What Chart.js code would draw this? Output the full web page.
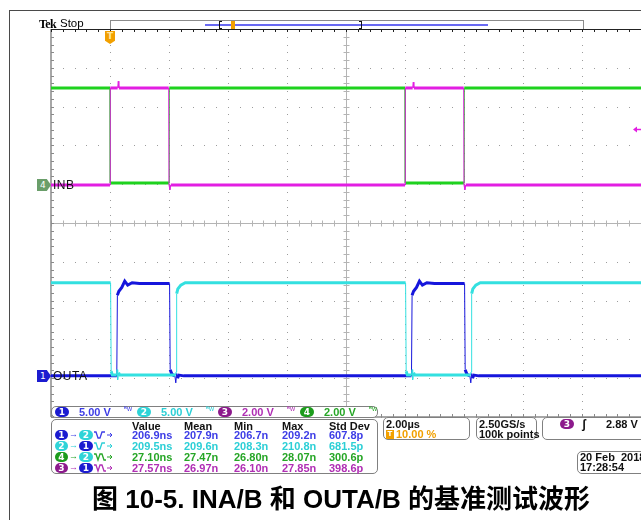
<!DOCTYPE html>
<html>
<head>
<meta charset="utf-8">
<script src="https://cdn.jsdelivr.net/npm/chart.js@4.4.1/dist/chart.umd.min.js"></script>
<style>
  html, body { margin: 0; padding: 0; background: #fff; width: 641px; height: 520px; overflow: hidden; position: relative;
    font-family: 'Liberation Sans', Arial, sans-serif; }
  #c { position: absolute; left: 0; top: 0; }
  .abs { position: absolute; white-space: nowrap; }
  .caixa { position: absolute; border: 1px solid #808080; border-radius: 5px; background: #fff; box-sizing: border-box; }
  .bad { position: absolute; height: 10px; border-radius: 6px; color: #fff; font: bold 9px/10px 'DejaVu Sans', sans-serif; text-align: center; }
  .txt { font-size: 11px; line-height: 12px; }
</style>
</head>
<body>
<canvas id="c" width="641" height="520"></canvas>

<script>
/* =========================================================
   DADOS (tempo em µs, trigger = 0 ; tensão em V)
========================================================= */
// CH4 - INA (verde)
const tINA = [-2, 0, 0.01, 2.0, 2.01, 10, 10.01, 12.0, 12.01, 18];
const vINA = [5.0, 5.0, 0.1, 0.1, 5.0, 5.0, 0.1, 0.1, 5.0, 5.0];

// CH3 - INB (magenta)
const tINB = [-2, 0, 0.01, 0.26, 0.28, 0.30, 1.99, 2.0, 2.03, 2.06, 10, 10.01, 10.26, 10.28, 10.30, 11.99, 12.0, 12.03, 12.06, 18];
const vINB = [0, 0, 5.0, 5.0, 5.35, 5.0, 5.0, 0, -0.25, 0, 0, 5.0, 5.0, 5.3, 5.0, 5.0, 0, -0.25, 0, 0];

// CH1 - OUTA (azul)
const tOUTA = [-2, 0.23, 0.25, 0.30, 0.40, 0.50, 0.60, 0.75, 1.0, 2.02, 2.04, 2.10, 2.20, 2.23, 2.26, 2.29, 2.33, 2.5,
               10.22, 10.24, 10.29, 10.39, 10.49, 10.59, 10.74, 11.0, 12.02, 12.04, 12.10, 12.20, 12.23, 12.26, 12.29, 12.33, 12.5, 18];
const vOUTA = [0, 0, 10.4, 10.9, 11.4, 12.2, 11.7, 12.0, 11.9, 11.9, 0.8, 0.2, 0, -0.9, 0.3, -0.3, 0.1, 0,
               0, 10.4, 10.9, 11.4, 12.2, 11.7, 12.0, 11.9, 11.9, 0.8, 0.2, 0, -0.9, 0.3, -0.3, 0.1, 0, 0];

// CH2 - OUTB (ciano)
const tOUTB = [-2, 0.02, 0.04, 0.08, 0.22, 0.24, 0.26, 0.29, 0.33, 2.22, 2.24, 2.26, 2.30, 2.40, 2.55,
               10.02, 10.04, 10.08, 10.22, 10.24, 10.26, 10.29, 10.33, 12.22, 12.24, 12.26, 12.30, 12.40, 12.55, 18];
const vOUTB = [12.0, 12.0, 0.6, 0.1, 0.1, 0.8, -0.5, 0.4, 0.1, 0.1, 0.5, 10.6, 11.2, 11.7, 12.0,
               12.0, 0.6, 0.1, 0.1, 0.8, -0.5, 0.4, 0.1, 0.1, 0.5, 10.6, 11.2, 11.7, 12.0, 12.0];

// leituras do osciloscópio
const escalas   = ['5.00 V', '5.00 V', '2.00 V', '2.00 V'];
const colunas   = ['Value', 'Mean', 'Min', 'Max', 'Std Dev'];
const medida1   = ['206.9ns', '207.9n', '206.7n', '209.2n', '607.8p'];
const medida2   = ['209.5ns', '209.6n', '208.3n', '210.8n', '681.5p'];
const medida3   = ['27.10ns', '27.47n', '26.80n', '28.07n', '300.6p'];
const medida4   = ['27.57ns', '26.97n', '26.10n', '27.85n', '398.6p'];
const nivelTrig = 2.88; // V, CH3

/* =========================================================
   CANAIS (V/div e posição do zero em divisões)
========================================================= */
const canais = {
  1: { vdiv: 5, zero: -3.94, cor: '#1616dc', badge: '#1c1cd0', texto: '#3d3de6' },
  2: { vdiv: 5, zero: -3.94, cor: '#33e0e0', badge: '#2fd4d8', texto: '#2ccfd6' },
  3: { vdiv: 2, zero: 0.98,  cor: '#e21ee2', badge: '#8c1a8c', texto: '#b02eb4' },
  4: { vdiv: 2, zero: 0.98,  cor: '#1ed21e', badge: '#1c9c1c', texto: '#26a626' }
};

function serie(ts, vs, ch) {
  const c = canais[ch];
  return ts.map((t, i) => ({ x: t, y: c.zero + vs[i] / c.vdiv }));
}

/* =========================================================
   GRADE DO OSCILOSCÓPIO
========================================================= */
const gradeOsc = {
  id: 'gradeOsc',
  beforeDatasetsDraw(chart) {
    const { ctx, chartArea: a, scales: { x, y } } = chart;
    ctx.save();

    // pontos da grade
    ctx.fillStyle = '#9c9c9c';
    for (let i = 0; i <= 10; i++) {
      const px = Math.round(x.getPixelForValue(-2 + i * 2));
      for (let k = 0; k <= 50; k++) {
        ctx.fillRect(px, Math.round(y.getPixelForValue(-5 + k * 0.2)), 1, 1);
      }
    }
    for (let j = 0; j <= 10; j++) {
      const py = Math.round(y.getPixelForValue(-5 + j));
      for (let k = 0; k <= 50; k++) {
        ctx.fillRect(Math.round(x.getPixelForValue(-2 + k * 0.4)), py, 1, 1);
      }
    }

    // eixos centrais
    const cx = Math.round(x.getPixelForValue(8)) + 0.5;
    const cy = Math.round(y.getPixelForValue(0)) + 0.5;
    ctx.strokeStyle = '#b4b4b4';
    ctx.lineWidth = 1;
    ctx.beginPath();
    ctx.moveTo(cx, a.top); ctx.lineTo(cx, a.bottom);
    ctx.moveTo(a.left, cy); ctx.lineTo(a.right, cy);
    for (let k = 0; k <= 50; k++) {
      const py = Math.round(y.getPixelForValue(-5 + k * 0.2)) + 0.5;
      ctx.moveTo(cx - 3, py); ctx.lineTo(cx + 3, py);
      const px = Math.round(x.getPixelForValue(-2 + k * 0.4)) + 0.5;
      ctx.moveTo(px, cy - 3); ctx.lineTo(px, cy + 3);
    }
    ctx.stroke();

    // bordas com marcas
    ctx.strokeStyle = '#8a8a8a';
    ctx.lineWidth = 1.5;
    ctx.beginPath();
    ctx.moveTo(a.left, a.top); ctx.lineTo(a.left, a.bottom);
    ctx.moveTo(a.left, a.bottom); ctx.lineTo(a.right, a.bottom);
    ctx.stroke();
    ctx.lineWidth = 1;
    ctx.beginPath();
    for (let k = 0; k <= 50; k++) {
      const py = Math.round(y.getPixelForValue(-5 + k * 0.2)) + 0.5;
      ctx.moveTo(a.left, py); ctx.lineTo(a.left + 3, py);
      const px = Math.round(x.getPixelForValue(-2 + k * 0.4)) + 0.5;
      ctx.moveTo(px, a.bottom); ctx.lineTo(px, a.bottom - 3);
    }
    ctx.stroke();

    ctx.strokeStyle = '#222';
    ctx.beginPath();
    ctx.moveTo(a.left, a.top + 0.5); ctx.lineTo(a.right, a.top + 0.5);
    for (let k = 0; k <= 50; k++) {
      const px = Math.round(x.getPixelForValue(-2 + k * 0.4)) + 0.5;
      ctx.moveTo(px, a.top); ctx.lineTo(px, a.top + 3);
    }
    ctx.stroke();
    ctx.restore();
  },
  afterDatasetsDraw(chart) {
    const { ctx, chartArea: a, scales: { y } } = chart;
    // seta do nível de trigger (CH3)
    const py = Math.round(y.getPixelForValue(canais[3].zero + nivelTrig / canais[3].vdiv)) + 0.5;
    ctx.save();
    ctx.fillStyle = canais[3].cor;
    ctx.strokeStyle = canais[3].cor;
    ctx.beginPath();
    ctx.moveTo(a.right - 8, py); ctx.lineTo(a.right - 4, py - 3); ctx.lineTo(a.right - 4, py + 3);
    ctx.closePath(); ctx.fill();
    ctx.lineWidth = 1.5;
    ctx.beginPath(); ctx.moveTo(a.right - 5, py); ctx.lineTo(a.right, py); ctx.stroke();
    ctx.restore();
  }
};

/* =========================================================
   GRÁFICO
========================================================= */
function dataset(ts, vs, ch) {
  return {
    data: serie(ts, vs, ch),
    borderColor: canais[ch].cor,
    borderWidth: 3,
    pointRadius: 0,
    tension: 0,
    borderJoinStyle: 'miter',
    segment: {
      // bordas rápidas e picos finos, patamares grossos
      borderWidth: s => Math.abs(s.p1.parsed.x - s.p0.parsed.x) < 0.035 ? 1 : 3
    }
  };
}

const grafico = new Chart(document.getElementById('c'), {
  type: 'line',
  data: {
    datasets: [
      dataset(tINB, vINB, 3),
      dataset(tINA, vINA, 4),
      dataset(tOUTB, vOUTB, 2),
      dataset(tOUTA, vOUTA, 1)
    ]
  },
  options: {
    responsive: false,
    animation: false,
    events: [],
    layout: { padding: { left: 51, top: 29, right: 0, bottom: 103 } },
    plugins: { legend: { display: false }, tooltip: { enabled: false } },
    scales: {
      x: { type: 'linear', min: -2, max: 18, display: false },
      y: { type: 'linear', min: -5, max: 5, display: false }
    }
  },
  plugins: [gradeOsc]
});

/* =========================================================
   TEXTOS E CAIXAS
========================================================= */
function el(txt, css, cls) {
  const d = document.createElement('div');
  d.className = 'abs ' + (cls || '');
  d.textContent = txt;
  Object.assign(d.style, css);
  document.body.appendChild(d);
  return d;
}
function badge(n, x, y, w) {
  const d = el(String(n), { left: x + 'px', top: y + 'px', width: (w || 13) + 'px', background: canais[n].badge }, '');
  d.className = 'bad';
  return d;
}
function borda(x, y, w, h) {
  const d = el('', { left: x + 'px', top: y + 'px', width: w + 'px', height: h + 'px' });
  d.className = 'caixa';
  return d;
}

// moldura externa
el('', { left: '9px', top: '10px', width: '640px', height: '520px', borderLeft: '1.5px solid #4a4a4a', borderTop: '1.5px solid #4a4a4a' });

// cabeçalho
el('Tek', { left: '39px', top: '17px', font: "bold 12px 'Liberation Serif', serif", letterSpacing: '-0.6px' });
el('Stop', { left: '60px', top: '17px', fontSize: '11.5px' });
el('', { left: '110px', top: '20px', width: '472px', height: '8px', border: '1px solid #8c8c8c', borderBottom: 'none', background: '#fff' });
el('', { left: '205px', top: '24px', width: '283px', height: '1.5px', background: '#6a6af2' });
el('', { left: '219px', top: '21px', width: '3px', height: '8px', borderLeft: '1.5px solid #111', borderTop: '1px solid #111', borderBottom: '1px solid #111', boxSizing: 'border-box' });
el('', { left: '359px', top: '21px', width: '3px', height: '8px', borderRight: '1.5px solid #111', borderTop: '1px solid #111', borderBottom: '1px solid #111', boxSizing: 'border-box' });
el('', { left: '231px', top: '21px', width: '4px', height: '8px', background: '#f2a000' });

// marcador de trigger
const xTrig = Math.round(grafico.scales.x.getPixelForValue(0));
el('T', { left: (xTrig - 5) + 'px', top: '31px', width: '10px', height: '13px', background: '#f2a000', color: '#ffe6a0',
  font: "bold 9px/11px 'DejaVu Sans', sans-serif", textAlign: 'center', clipPath: 'polygon(0 0,100% 0,100% 75%,50% 100%,0 75%)' });

// marcadores de terra
function marcaTerra(ch, rotulo, cor) {
  const py = Math.round(grafico.scales.y.getPixelForValue(canais[ch].zero));
  el(String(ch), { left: '37px', top: (py - 6) + 'px', width: '14px', height: '12px', background: cor, color: '#fff',
    font: "9px/12px 'DejaVu Sans', sans-serif", textIndent: '3px', clipPath: 'polygon(0 0,70% 0,100% 50%,70% 100%,0 100%)' });
  el(rotulo, { left: '53px', top: (py - 7) + 'px', fontSize: '12px', lineHeight: '14px', color: '#111', letterSpacing: '0.5px' });
}
marcaTerra(4, 'INB', '#6a9e6a');
marcaTerra(1, 'OUTA', '#1c1cd0');

// barra dos canais
borda(51, 406, 327, 12);
const xCanal = [55, 137, 218, 300];
[1, 2, 3, 4].forEach((ch, i) => {
  badge(ch, xCanal[i], 407, 14);
  el(escalas[i], { left: (xCanal[i] + 24) + 'px', top: '406px', color: canais[ch].texto, fontWeight: 'bold' }, 'txt');
  el('ᴮw', { left: (xCanal[i] + 69) + 'px', top: '405px', color: canais[ch].texto, fontSize: '7px' });
});

// tabela de medidas
borda(51, 419, 327, 55);
const xCol = [132, 184, 234, 282, 329];
colunas.forEach((c, i) => el(c, { left: xCol[i] + 'px', top: '420px', color: '#111', fontWeight: 'bold' }, 'txt'));

function icone(subida) {
  const pts = subida ? '0,2 2,2 4,8 6,8 8,2 11,2' : '0,2 2,2 4,8 6,2 8,2 10,8 12,8';
  return '<svg width="20" height="10"><polyline points="' + pts + '" fill="none" stroke="currentColor" stroke-width="1.3"/>' +
         '<path d="M13 5 H18 M16 3 L18 5 L16 7" fill="none" stroke="currentColor" stroke-width="1"/></svg>';
}
const linhas = [
  { de: 1, para: 2, sub: true,  vals: medida1, cor: canais[1].texto },
  { de: 2, para: 1, sub: true,  vals: medida2, cor: canais[2].texto },
  { de: 4, para: 2, sub: false, vals: medida3, cor: canais[4].texto },
  { de: 3, para: 1, sub: false, vals: medida4, cor: canais[3].texto }
];
const yLinha = [430, 441, 452, 463];
linhas.forEach((l, r) => {
  const y = yLinha[r];
  badge(l.de, 55, y, 13);
  el('→', { left: '69px', top: (y - 1) + 'px', fontSize: '9px', color: l.cor });
  badge(l.para, 79, y, 14);
  const ic = el('', { left: '94px', top: y + 'px', color: l.cor, lineHeight: '10px' });
  ic.innerHTML = icone(l.sub);
  l.vals.forEach((v, i) => el(v, { left: xCol[i] + 'px', top: (y - 1) + 'px', color: l.cor, fontWeight: 'bold' }, 'txt'));
});

// caixas da base de tempo / amostragem / trigger
borda(383, 417, 87, 23);
el('2.00µs', { left: '386px', top: '418px', color: '#111', fontWeight: 'bold' }, 'txt');
el('T', { left: '386px', top: '430px', width: '8px', height: '9px', background: '#f2a000', color: '#fff', font: "bold 7px/9px 'DejaVu Sans', sans-serif", textAlign: 'center' });
el('10.00 %', { left: '396px', top: '428px', color: '#f2a000', fontWeight: 'bold' }, 'txt');

borda(476, 417, 61, 23);
el('2.50GS/s', { left: '479px', top: '418px', color: '#111', fontWeight: 'bold' }, 'txt');
el('100k points', { left: '479px', top: '428px', color: '#111', fontWeight: 'bold' }, 'txt');

borda(542, 417, 110, 23);
badge(3, 560, 419, 14);
el('ʃ', { left: '582px', top: '417px', color: '#111', fontWeight: 'bold', fontSize: '12px' });
el('2.88 V', { left: '606px', top: '418px', color: '#111', fontWeight: 'bold' }, 'txt');

borda(577, 451, 70, 23);
el('20 Feb  2018', { left: '580px', top: '451px', color: '#111', fontWeight: 'bold', whiteSpace: 'pre' }, 'txt');
el('17:28:54', { left: '580px', top: '461px', color: '#111', fontWeight: 'bold' }, 'txt');

// legenda da figura
el('图 10-5. INA/B 和 OUTA/B 的基准测试波形', { left: '41px', top: '484px', width: '600px', textAlign: 'center',
  font: "bold 26px/30px 'Liberation Sans', 'Noto Sans CJK SC', sans-serif", color: '#000' });
</script>
</body>
</html>
